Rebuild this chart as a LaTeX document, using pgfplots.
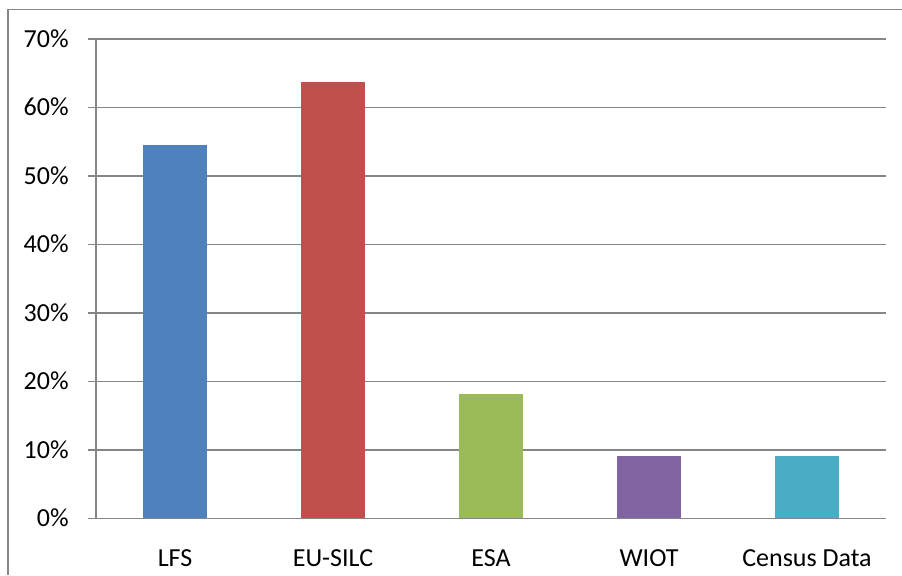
\documentclass[border=0pt]{standalone}
\usepackage{pgfplots}
\pgfplotsset{compat=1.18}
\usepackage{fontspec}
\setmainfont{Carlito}
\definecolor{gridgray}{HTML}{868686}
\definecolor{c1}{HTML}{4F81BD}
\definecolor{c2}{HTML}{C0504D}
\definecolor{c3}{HTML}{9BBB59}
\definecolor{c4}{HTML}{8064A2}
\definecolor{c5}{HTML}{4BACC6}
\begin{document}
\begin{tikzpicture}
\useasboundingbox (0,0) rectangle (451pt,287.5pt);
\draw[gridgray, line width=0.6pt] (4pt,0) -- (4pt,282.75pt) -- (451pt,282.75pt);
\begin{axis}[
  at={(48pt,28.35pt)}, anchor=south west,
  scale only axis, width=395pt, height=239.65pt,
  xmin=-0.5, xmax=4.5, ymin=0, ymax=70,
  axis x line=bottom, axis y line=left,
  axis line style={gridgray, line width=0.75pt, -},
  ymajorgrids, grid style={gridgray, line width=0.75pt},
  xtick={0,1,2,3,4},
  xticklabels={LFS, EU-SILC, ESA, WIOT, Census Data},
  ytick={0,10,20,30,40,50,60,70},
  yticklabel={\pgfmathprintnumber{\tick}\%},
  /pgf/number format/assume math mode=true,
  tick label style={font=\fontsize{13}{15}\selectfont, inner sep=0pt},
  yticklabel style={anchor=base east, xshift=-9.5pt, yshift=-4.15pt},
  xticklabel style={anchor=base, yshift=-20pt},
  x tick style={draw=none},
  y tick style={gridgray, line width=0.75pt},
  tick align=outside, major tick length=4pt,
  ybar, bar width=32pt, bar shift=0pt,
]
\addplot[fill=c1, draw=none] coordinates {(0,54.5)};
\addplot[fill=c2, draw=none] coordinates {(1,63.7)};
\addplot[fill=c3, draw=none] coordinates {(2,18.1)};
\addplot[fill=c4, draw=none] coordinates {(3,9.1)};
\addplot[fill=c5, draw=none] coordinates {(4,9.1)};
\end{axis}
\end{tikzpicture}
\end{document}
